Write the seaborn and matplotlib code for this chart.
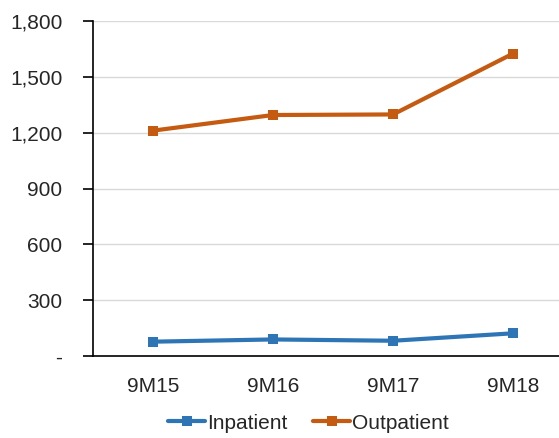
import seaborn as sns
import pandas as pd
from matplotlib import pyplot as plt
from matplotlib.ticker import FuncFormatter, FixedLocator

# data
periods = ["9M15", "9M16", "9M17", "9M18"]
inpatient = [77, 89, 82, 122]
outpatient = [1211, 1295, 1298, 1625]

df = pd.DataFrame({
    "period": periods * 2,
    "value": inpatient + outpatient,
    "type": ["Inpatient"] * 4 + ["Outpatient"] * 4,
})

sns.set_style("white")
plt.rcParams['font.family'] = ['Liberation Sans', 'DejaVu Sans']

fig = plt.figure(figsize=(5.59, 4.38), dpi=100)
ax = fig.add_axes([0.1664, 0.1872, 0.8587, 0.7648])

sns.lineplot(data=df, x="period", y="value", hue="type",
             palette={"Inpatient": "#2E75B6", "Outpatient": "#C55A11"},
             marker="s", markersize=7, markeredgewidth=0, linewidth=3,
             ax=ax, legend=True)

# axes and grid
ax.set_ylim(0, 1800)
ax.set_xlim(-0.5, 3.5)
ax.set_yticks(range(0, 1801, 300))
ax.yaxis.set_major_formatter(FuncFormatter(lambda v, p: "-" if v == 0 else f"{int(v):,}"))
ax.grid(axis="y", color="#D9D9D9", linewidth=1)
ax.set_axisbelow(True)

ax.xaxis.set_minor_locator(FixedLocator([-0.5, 0.5, 1.5, 2.5, 3.5]))
ax.tick_params(axis="x", which="major", length=0, pad=15, labelsize=15, colors="#262626")
ax.tick_params(axis="x", which="minor", length=7, width=1.2, color="black", direction="out")
ax.tick_params(axis="y", length=7, width=1.2, color="black", direction="out",
               labelsize=15, labelcolor="#262626", pad=15, left=True)

for side in ["top", "right"]:
    ax.spines[side].set_visible(False)
for side in ["left", "bottom"]:
    ax.spines[side].set_color("black")
    ax.spines[side].set_linewidth(1.2)

ax.set_xlabel("")
ax.set_ylabel("")

# legend below the chart
handles, labels = ax.get_legend_handles_labels()
ax.get_legend().remove()
fig.legend(handles, labels, loc="center", bbox_to_anchor=(0.552, 0.034), ncol=2,
           frameon=False, fontsize=15, handlelength=1.8, handletextpad=0.1,
           columnspacing=1.2, labelcolor="#262626")

fig.savefig("out.png", dpi=100)
